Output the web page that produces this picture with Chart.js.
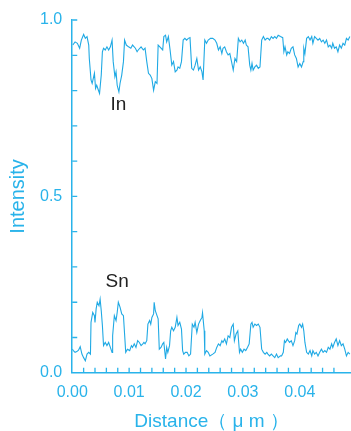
<!DOCTYPE html>
<html>
<head>
<meta charset="utf-8">
<script src="https://cdn.jsdelivr.net/npm/chart.js@4/dist/chart.umd.min.js"></script>
<style>
  html, body { margin: 0; padding: 0; background: #fff; }
  #wrap { width: 351px; height: 431px; position: relative; }
</style>
</head>
<body>
<div id="wrap"><canvas id="chart"></canvas></div>
<script>
const inDistance = [
  0.0001, 0.0005, 0.0009, 0.0013, 0.0016, 0.0020, 0.0023, 0.0026, 0.0029, 0.0030,
  0.0033, 0.0035, 0.0039, 0.0041, 0.0043, 0.0046, 0.0048, 0.0051, 0.0053, 0.0055,
  0.0058, 0.0061, 0.0064, 0.0067, 0.0070, 0.0072, 0.0075, 0.0077, 0.0079, 0.0082,
  0.0084, 0.0087, 0.0090, 0.0092, 0.0095, 0.0099, 0.0103, 0.0106, 0.0111, 0.0114,
  0.0116, 0.0121, 0.0125, 0.0128, 0.0131, 0.0134, 0.0137, 0.0140, 0.0143, 0.0146,
  0.0149, 0.0151, 0.0154, 0.0159, 0.0161, 0.0164, 0.0166, 0.0169, 0.0172, 0.0175,
  0.0178, 0.0181, 0.0184, 0.0186, 0.0189, 0.0192, 0.0195, 0.0198, 0.0201, 0.0204,
  0.0207, 0.0210, 0.0213, 0.0216, 0.0219, 0.0222, 0.0225, 0.0228, 0.0230, 0.0233,
  0.0236, 0.0239, 0.0243, 0.0247, 0.0251, 0.0254, 0.0257, 0.0260, 0.0263, 0.0265,
  0.0268, 0.0271, 0.0274, 0.0277, 0.0280, 0.0283, 0.0286, 0.0289, 0.0292, 0.0295,
  0.0298, 0.0301, 0.0304, 0.0306, 0.0309, 0.0312, 0.0314, 0.0316, 0.0318, 0.0321,
  0.0324, 0.0327, 0.0330, 0.0333, 0.0336, 0.0339, 0.0342, 0.0344, 0.0347, 0.0350,
  0.0353, 0.0356, 0.0359, 0.0362, 0.0366, 0.0370, 0.0372, 0.0374, 0.0377, 0.0379,
  0.0382, 0.0385, 0.0388, 0.0391, 0.0394, 0.0397, 0.0400, 0.0403, 0.0406, 0.0407,
  0.0409, 0.0412, 0.0415, 0.0418, 0.0421, 0.0423, 0.0426, 0.0429, 0.0432, 0.0435,
  0.0438, 0.0441, 0.0444, 0.0447, 0.0450, 0.0453, 0.0456, 0.0458, 0.0461, 0.0464,
  0.0467, 0.0470, 0.0473, 0.0476, 0.0479, 0.0482, 0.0485, 0.0488,
];
const inIntensity = [
  0.929, 0.938, 0.934, 0.920, 0.943, 0.959, 0.948, 0.953, 0.929, 0.891,
  0.830, 0.820, 0.849, 0.806, 0.815, 0.801, 0.792, 0.844, 0.910, 0.920,
  0.915, 0.924, 0.915, 0.924, 0.943, 0.882, 0.839, 0.853, 0.815, 0.796,
  0.820, 0.844, 0.882, 0.943, 0.929, 0.924, 0.920, 0.929, 0.920, 0.910,
  0.915, 0.924, 0.915, 0.920, 0.882, 0.849, 0.844, 0.834, 0.801, 0.825,
  0.820, 0.929, 0.924, 0.915, 0.953, 0.957, 0.938, 0.953, 0.915, 0.872,
  0.882, 0.853, 0.858, 0.867, 0.863, 0.882, 0.943, 0.948, 0.943, 0.948,
  0.950, 0.863, 0.858, 0.872, 0.891, 0.858, 0.867, 0.853, 0.830, 0.943,
  0.934, 0.943, 0.948, 0.948, 0.943, 0.934, 0.915, 0.924, 0.905, 0.920,
  0.924, 0.910, 0.901, 0.905, 0.882, 0.858, 0.891, 0.882, 0.948, 0.938,
  0.943, 0.934, 0.943, 0.929, 0.924, 0.872, 0.858, 0.877, 0.858, 0.867,
  0.872, 0.863, 0.867, 0.943, 0.953, 0.943, 0.948, 0.948, 0.943, 0.953,
  0.948, 0.953, 0.948, 0.957, 0.953, 0.950, 0.910, 0.924, 0.901, 0.910,
  0.905, 0.920, 0.924, 0.901, 0.891, 0.867, 0.877, 0.867, 0.882, 0.920,
  0.905, 0.948, 0.953, 0.943, 0.953, 0.934, 0.953, 0.948, 0.943, 0.948,
  0.938, 0.943, 0.934, 0.943, 0.924, 0.929, 0.920, 0.934, 0.920, 0.924,
  0.910, 0.929, 0.920, 0.934, 0.929, 0.948, 0.943, 0.953,
];
const snDistance = [
  0.0000, 0.0002, 0.0005, 0.0008, 0.0011, 0.0014, 0.0017, 0.0020, 0.0023, 0.0026,
  0.0029, 0.0032, 0.0033, 0.0036, 0.0039, 0.0040, 0.0042, 0.0044, 0.0047, 0.0049,
  0.0051, 0.0053, 0.0055, 0.0058, 0.0061, 0.0064, 0.0067, 0.0070, 0.0071, 0.0074,
  0.0077, 0.0079, 0.0081, 0.0084, 0.0087, 0.0090, 0.0092, 0.0094, 0.0097, 0.0101,
  0.0104, 0.0106, 0.0109, 0.0112, 0.0115, 0.0118, 0.0121, 0.0124, 0.0126, 0.0128,
  0.0131, 0.0133, 0.0136, 0.0138, 0.0140, 0.0143, 0.0144, 0.0146, 0.0149, 0.0151,
  0.0153, 0.0156, 0.0159, 0.0161, 0.0164, 0.0166, 0.0168, 0.0171, 0.0173, 0.0175,
  0.0178, 0.0181, 0.0184, 0.0186, 0.0189, 0.0192, 0.0194, 0.0196, 0.0199, 0.0202,
  0.0205, 0.0208, 0.0211, 0.0214, 0.0216, 0.0219, 0.0222, 0.0225, 0.0228, 0.0229,
  0.0232, 0.0233, 0.0236, 0.0239, 0.0242, 0.0247, 0.0251, 0.0254, 0.0257, 0.0260,
  0.0263, 0.0265, 0.0268, 0.0271, 0.0274, 0.0277, 0.0280, 0.0283, 0.0285, 0.0288,
  0.0291, 0.0294, 0.0296, 0.0299, 0.0302, 0.0305, 0.0308, 0.0311, 0.0314, 0.0316,
  0.0318, 0.0321, 0.0324, 0.0327, 0.0330, 0.0333, 0.0336, 0.0339, 0.0342, 0.0344,
  0.0347, 0.0350, 0.0353, 0.0356, 0.0359, 0.0362, 0.0366, 0.0368, 0.0371, 0.0373,
  0.0375, 0.0378, 0.0380, 0.0382, 0.0385, 0.0388, 0.0391, 0.0393, 0.0395, 0.0398,
  0.0400, 0.0403, 0.0405, 0.0407, 0.0409, 0.0412, 0.0415, 0.0418, 0.0421, 0.0423,
  0.0426, 0.0429, 0.0432, 0.0435, 0.0438, 0.0441, 0.0444, 0.0447, 0.0450, 0.0453,
  0.0456, 0.0458, 0.0461, 0.0464, 0.0467, 0.0470, 0.0473, 0.0476, 0.0479, 0.0482,
  0.0485, 0.0488,
];
const snIntensity = [
  0.067, 0.063, 0.058, 0.060, 0.064, 0.074, 0.053, 0.043, 0.034, 0.053,
  0.058, 0.053, 0.143, 0.171, 0.162, 0.143, 0.181, 0.200, 0.190, 0.209,
  0.176, 0.134, 0.077, 0.086, 0.077, 0.086, 0.072, 0.058, 0.105, 0.162,
  0.148, 0.171, 0.200, 0.186, 0.167, 0.162, 0.110, 0.058, 0.067, 0.063,
  0.077, 0.072, 0.082, 0.072, 0.091, 0.086, 0.077, 0.082, 0.086, 0.082,
  0.091, 0.138, 0.148, 0.138, 0.157, 0.167, 0.200, 0.176, 0.162, 0.153,
  0.067, 0.072, 0.082, 0.086, 0.039, 0.072, 0.058, 0.077, 0.119, 0.129,
  0.119, 0.129, 0.157, 0.134, 0.143, 0.124, 0.063, 0.053, 0.058, 0.058,
  0.048, 0.053, 0.138, 0.129, 0.143, 0.114, 0.138, 0.148, 0.157, 0.170,
  0.119, 0.053, 0.063, 0.058, 0.048, 0.053, 0.058, 0.072, 0.082, 0.077,
  0.091, 0.086, 0.096, 0.082, 0.105, 0.100, 0.129, 0.138, 0.091, 0.110,
  0.119, 0.058, 0.067, 0.058, 0.067, 0.063, 0.072, 0.082, 0.138, 0.143,
  0.129, 0.138, 0.134, 0.138, 0.129, 0.067, 0.058, 0.053, 0.058, 0.053,
  0.048, 0.053, 0.048, 0.043, 0.053, 0.043, 0.048, 0.048, 0.058, 0.091,
  0.086, 0.096, 0.091, 0.086, 0.091, 0.077, 0.091, 0.114, 0.110, 0.134,
  0.138, 0.129, 0.138, 0.119, 0.086, 0.058, 0.053, 0.063, 0.048, 0.063,
  0.053, 0.058, 0.048, 0.058, 0.067, 0.058, 0.063, 0.058, 0.072, 0.067,
  0.082, 0.072, 0.086, 0.096, 0.077, 0.091, 0.077, 0.082, 0.067, 0.048,
  0.058, 0.053,
];

// text labels sitting next to each trace, in data coordinates
const traceLabels = [
  { text: 'In', x: 0.0081, y: 0.761 },
  { text: 'Sn', x: 0.0079, y: 0.259 },
];

const BLUE = '#29b3ea';
const LINE = '#1fa9e4';
const FONT = "'Liberation Sans', Arial, sans-serif";

const toPoints = (xs, ys) => xs.map((x, i) => ({ x, y: ys[i] }));

const nearStep = (v, step) => Math.abs(v / step - Math.round(v / step)) < 1e-6;

// ticks are drawn pointing into the plot, like the original
const innerTicks = {
  id: 'innerTicks',
  afterDraw(chart) {
    const { ctx, chartArea, scales: { x, y } } = chart;
    ctx.save();
    ctx.strokeStyle = BLUE;
    ctx.lineWidth = 1.3;
    ctx.beginPath();
    y.ticks.filter(t => nearStep(t.value, 0.1) && t.value > 0).forEach(t => {
      const py = y.getPixelForValue(t.value);
      ctx.moveTo(chartArea.left, py);
      ctx.lineTo(chartArea.left + 5, py);
    });
    x.ticks.filter(t => nearStep(t.value, 0.002) && t.value > 0).forEach(t => {
      const px = x.getPixelForValue(t.value);
      ctx.moveTo(px, chartArea.bottom);
      ctx.lineTo(px, chartArea.bottom - 5);
    });
    ctx.stroke();

    ctx.fillStyle = '#222';
    ctx.font = `19px ${FONT}`;
    ctx.textAlign = 'center';
    ctx.textBaseline = 'middle';
    traceLabels.forEach(l => ctx.fillText(l.text, x.getPixelForValue(l.x), y.getPixelForValue(l.y)));
    ctx.restore();
  },
};

const trace = (label, xs, ys) => ({
  label,
  data: toPoints(xs, ys),
  borderColor: LINE,
  borderWidth: 1.1,
  pointRadius: 0,
  tension: 0,
  fill: false,
});

new Chart(document.getElementById('chart'), {
  type: 'line',
  data: {
    datasets: [
      trace('In', inDistance, inIntensity),
      trace('Sn', snDistance, snIntensity),
    ],
  },
  options: {
    responsive: true,
    maintainAspectRatio: false,
    animation: false,
    layout: { autoPadding: false, padding: { top: 20, right: 0, bottom: 0, left: 0 } },
    plugins: { legend: { display: false }, tooltip: { enabled: false } },
    scales: {
      x: {
        type: 'linear',
        min: 0,
        max: 0.049,
        grid: { display: true, drawOnChartArea: false, drawTicks: false, tickLength: 0 },
        border: { display: true, color: BLUE, width: 1.5 },
        afterFit: scale => { scale.paddingRight = 0; },
        ticks: {
          stepSize: 0.002,
          autoSkip: false,
          maxRotation: 0,
          padding: 10,
          color: BLUE,
          font: { family: FONT, size: 16 },
          callback: v => (nearStep(v, 0.01) ? v.toFixed(2) : ''),
        },
        title: {
          display: true,
          text: 'Distance（ μ m ）',
          color: BLUE,
          font: { family: FONT, size: 19, lineHeight: 1 },
          padding: { top: 0, bottom: 0 },
        },
      },
      y: {
        min: 0,
        max: 1,
        grid: { display: true, drawOnChartArea: false, drawTicks: false, tickLength: 0 },
        border: { display: true, color: BLUE, width: 1.5 },
        ticks: {
          stepSize: 0.1,
          autoSkip: false,
          padding: 10,
          color: BLUE,
          font: { family: FONT, size: 16 },
          callback: v => (nearStep(v, 0.5) ? v.toFixed(1) : ''),
        },
        title: {
          display: true,
          text: 'Intensity',
          color: BLUE,
          font: { family: FONT, size: 20, lineHeight: 1 },
          padding: { top: 8, bottom: 2 },
        },
      },
    },
  },
  plugins: [innerTicks],
});
</script>
</body>
</html>
